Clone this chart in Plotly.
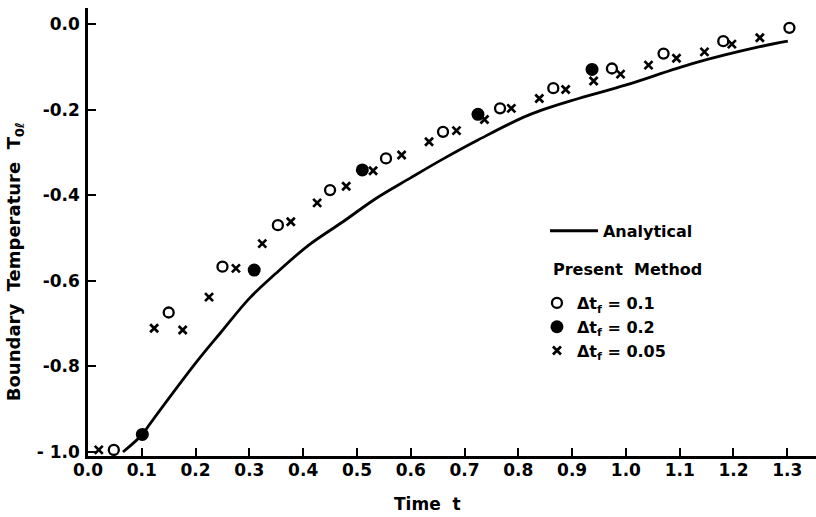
import plotly.graph_objects as go

# Analytical solution
t_analytical = [0.065, 0.101, 0.113, 0.204, 0.248, 0.300, 0.349, 0.411, 0.474, 0.536,
                0.599, 0.662, 0.725, 0.819, 0.912, 0.999, 1.125, 1.249, 1.301]
T_analytical = [-1.000, -0.959, -0.938, -0.786, -0.719, -0.641, -0.583, -0.516, -0.462, -0.407,
                -0.360, -0.314, -0.271, -0.213, -0.174, -0.143, -0.092, -0.053, -0.040]

# Present method, dt_f = 0.1 (open circles)
t_dt01 = [0.048, 0.150, 0.250, 0.353, 0.450, 0.554, 0.660, 0.766, 0.865, 0.974, 1.070, 1.181, 1.304]
T_dt01 = [-0.995, -0.674, -0.567, -0.470, -0.388, -0.314, -0.252, -0.197, -0.150, -0.104, -0.069, -0.040, -0.009]

# Present method, dt_f = 0.2 (filled circles)
t_dt02 = [0.101, 0.309, 0.510, 0.725, 0.937]
T_dt02 = [-0.959, -0.575, -0.341, -0.211, -0.106]

# Present method, dt_f = 0.05 (x)
t_dt005 = [0.020, 0.123, 0.176, 0.225, 0.275, 0.324, 0.377, 0.426, 0.480, 0.530, 0.583, 0.634,
           0.685, 0.737, 0.787, 0.839, 0.888, 0.940, 0.990, 1.042, 1.094, 1.146, 1.197, 1.249]
T_dt005 = [-0.995, -0.711, -0.715, -0.638, -0.571, -0.513, -0.462, -0.418, -0.379, -0.343, -0.306, -0.275,
           -0.249, -0.223, -0.197, -0.174, -0.153, -0.133, -0.117, -0.096, -0.080, -0.065, -0.047, -0.032]

x_ticks = [0.0, 0.1, 0.2, 0.3, 0.4, 0.5, 0.6, 0.7, 0.8, 0.9, 1.0, 1.1, 1.2, 1.3]
x_ticklabels = ["0.0", "0.1", "0.2", "0.3", "0.4", "0.5", "0.6", "0.7", "0.8", "0.9", "1.0", "1.1", "1.2", "1.3"]
y_ticks = [0.0, -0.2, -0.4, -0.6, -0.8, -1.0]
y_ticklabels = ["0.0", "-0.2", "-0.4", "-0.6", "-0.8", "- 1.0"]

FONT = "DejaVu Sans"
fig = go.Figure()

fig.add_trace(go.Scatter(
    x=t_analytical, y=T_analytical, mode="lines", name="<b>Analytical</b>",
    line=dict(color="black", width=2.8, shape="spline", smoothing=1.0),
    legend="legend"))

fig.add_trace(go.Scatter(
    x=t_dt01, y=T_dt01, mode="markers", name="<b>Δt<sub>f</sub> = 0.1</b>",
    marker=dict(symbol="circle-open", size=10, color="black", line=dict(width=2.3, color="black")),
    legend="legend2"))

fig.add_trace(go.Scatter(
    x=t_dt02, y=T_dt02, mode="markers", name="<b>Δt<sub>f</sub> = 0.2</b>",
    marker=dict(symbol="circle", size=13, color="black"),
    legend="legend2"))

fig.add_trace(go.Scatter(
    x=t_dt005, y=T_dt005, mode="markers", name="<b>Δt<sub>f</sub> = 0.05</b>",
    marker=dict(symbol="x-thin-open", size=8, color="black", line=dict(width=2.7, color="black")),
    legend="legend2"))

axis_common = dict(
    showline=True, linecolor="black", linewidth=2.5,
    ticks="inside", ticklen=8, tickwidth=2, tickcolor="black",
    showgrid=False, zeroline=False, mirror=False,
    tickfont=dict(family=FONT, size=17, color="black", weight="bold"),
)

fig.update_layout(
    width=816, height=517,
    margin=dict(l=88, r=0, t=8, b=61),
    paper_bgcolor="white", plot_bgcolor="white",
    font=dict(family=FONT, color="black"),
    xaxis=dict(range=[0, 1.3534], tickvals=x_ticks, ticktext=x_ticklabels,
               ticklabelstandoff=-3, **axis_common),
    yaxis=dict(range=[-1.0093, 0.0374], tickvals=y_ticks, ticktext=y_ticklabels,
               ticklabelstandoff=2, **axis_common),
    legend=dict(x=0.6277, y=0.5405, xanchor="left", yanchor="top", bgcolor="rgba(0,0,0,0)",
                itemwidth=48, font=dict(family=FONT, size=16, color="black"),
                borderwidth=0),
    legend2=dict(x=0.6167, y=0.3794, xanchor="left", yanchor="top", bgcolor="rgba(0,0,0,0)",
                 font=dict(family=FONT, size=16, color="black"), tracegroupgap=0,
                 borderwidth=0),
    showlegend=True,
)

fig.add_annotation(
    text="<b>Present  Method</b>", xref="paper", yref="paper", x=0.636, y=0.4174,
    xanchor="left", yanchor="middle", showarrow=False,
    font=dict(family=FONT, size=16, color="black"))

fig.add_annotation(
    text="<b>Time  t</b>", xref="paper", yref="paper", x=0.466, y=-0.107,
    xanchor="center", yanchor="middle", showarrow=False,
    font=dict(family=FONT, size=17, color="black"))

fig.add_annotation(
    text="<b>Boundary  Temperature  T<sub>0ℓ</sub></b>", xref="paper", yref="paper",
    x=-0.100, y=0.433, xanchor="center", yanchor="middle", textangle=-90, showarrow=False,
    font=dict(family=FONT, size=18, color="black"))

fig.write_html("out.html", config={"displayModeBar": False},
               post_script="document.body.style.margin='0';")
